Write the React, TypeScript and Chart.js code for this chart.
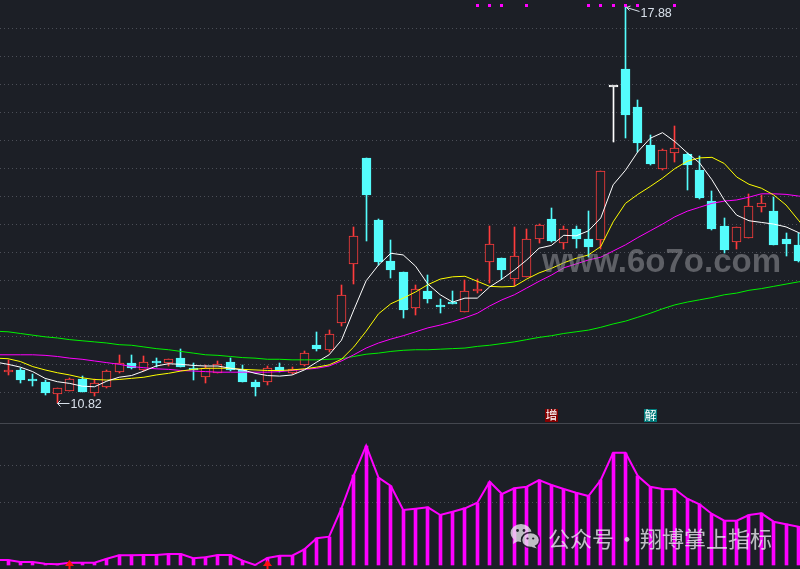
import React, { useEffect, useRef } from 'react';
import { Chart, registerables } from 'chart.js';

Chart.register(...registerables);

// daily candles, index 0..64
const candleOpen = [
  11.37, 11.40, 11.24, 11.20, 10.98, 11.04, 11.25, 11.00, 11.11, 11.38,
  11.54, 11.41, 11.55, 11.53, 11.63, 11.44, 11.29, 11.36, 11.55, 11.40,
  11.20, 11.20, 11.46, 11.35, 11.49, 11.85, 11.77, 12.25, 13.29, 15.19,
  14.08, 13.35, 13.16, 12.52, 12.82, 12.56, 12.61, 12.44, 12.82, 13.33,
  13.40, 13.04, 13.07, 13.74, 14.10, 13.67, 13.92, 13.74, 13.73, 16.45,
  16.77, 16.10, 15.42, 14.99, 15.27, 15.26, 14.97, 14.43, 13.98, 13.69,
  13.77, 14.31, 14.25, 13.74, 13.64,
];
const candleClose = [
  11.39, 11.23, 11.22, 11.00, 11.09, 11.25, 11.02, 11.18, 11.39, 11.53,
  11.45, 11.56, 11.53, 11.60, 11.47, 11.40, 11.44, 11.51, 11.40, 11.20,
  11.11, 11.45, 11.39, 11.42, 11.72, 11.78, 12.05, 12.75, 13.79, 14.52,
  13.34, 13.19, 12.47, 12.85, 12.67, 12.54, 12.59, 12.81, 12.86, 13.65,
  13.20, 13.45, 13.74, 13.99, 13.70, 13.92, 13.74, 13.60, 14.95, 16.45,
  15.96, 15.46, 15.08, 15.33, 15.37, 15.06, 14.48, 13.92, 13.55, 13.95,
  14.33, 14.39, 13.64, 13.65, 13.36,
];
const candleHigh = [
  11.59, 11.44, 11.34, 11.23, 11.09, 11.27, 11.30, 11.25, 11.41, 11.68,
  11.68, 11.66, 11.62, 11.60, 11.79, 11.53, 11.50, 11.57, 11.63, 11.49,
  11.23, 11.48, 11.54, 11.46, 11.75, 12.09, 12.12, 12.92, 13.95, 15.19,
  14.10, 13.73, 13.16, 12.92, 13.10, 12.67, 12.82, 13.01, 13.03, 13.98,
  13.40, 13.95, 13.93, 14.01, 14.29, 13.98, 13.98, 14.24, 14.95, 16.45,
  17.88, 16.22, 15.60, 15.35, 15.75, 15.28, 15.22, 14.60, 14.11, 13.96,
  14.55, 14.53, 14.50, 13.85, 13.85,
];
const candleLow = [
  11.32, 11.18, 11.13, 10.96, 10.82, 11.03, 11.01, 10.94, 11.09, 11.36,
  11.43, 11.39, 11.47, 11.48, 11.46, 11.23, 11.18, 11.36, 11.39, 11.20,
  10.95, 11.15, 11.37, 11.34, 11.48, 11.75, 11.73, 12.20, 12.94, 13.70,
  13.28, 13.05, 12.33, 12.39, 12.60, 12.43, 12.58, 12.44, 12.79, 12.96,
  13.03, 12.91, 13.07, 13.67, 13.69, 13.56, 13.58, 13.42, 13.56, 15.48,
  15.55, 15.30, 15.06, 14.97, 15.12, 14.61, 14.46, 13.90, 13.49, 13.56,
  13.76, 14.23, 13.63, 13.44, 13.33,
];

// moving averages and the lower indicator run from index -1 to 65 (off both edges)
const LINE_START = -1;
const ma5 = [
  11.55, 11.51, 11.46, 11.38, 11.26, 11.20, 11.17, 11.12, 11.11, 11.21,
  11.28, 11.31, 11.39, 11.48, 11.52, 11.51, 11.49, 11.48, 11.48, 11.44,
  11.41, 11.35, 11.31, 11.30, 11.32, 11.41, 11.55, 11.68, 11.94, 12.48,
  13.00, 13.28, 13.49, 13.46, 13.26, 12.94, 12.75, 12.62, 12.69, 12.69,
  12.89, 13.03, 13.19, 13.37, 13.58, 13.63, 13.81, 13.80, 13.89, 14.12,
  14.71, 14.97, 15.30, 15.54, 15.64, 15.48, 15.28, 15.10, 14.80, 14.44,
  14.17, 14.07, 14.04, 14.01, 13.96, 13.86, 13.76,
];
const ma10 = [
  11.62, 11.61, 11.56, 11.47, 11.41, 11.36, 11.32, 11.27, 11.24, 11.23,
  11.24, 11.26, 11.28, 11.32, 11.35, 11.39, 11.42, 11.44, 11.44, 11.44,
  11.42, 11.41, 11.40, 11.40, 11.41, 11.43, 11.46, 11.50, 11.60, 11.82,
  12.10, 12.41, 12.59, 12.69, 12.80, 12.93, 13.03, 13.07, 13.08, 12.99,
  12.90, 12.89, 12.90, 13.03, 13.14, 13.22, 13.32, 13.40, 13.46, 13.61,
  14.05, 14.38, 14.54, 14.68, 14.83, 15.00, 15.13, 15.19, 15.20, 15.09,
  14.85, 14.72, 14.65, 14.53, 14.35, 14.08, 13.81,
];
const ma20 = [
  11.68, 11.68, 11.68, 11.68, 11.67, 11.65, 11.62, 11.60, 11.57, 11.54,
  11.51, 11.47, 11.45, 11.43, 11.42, 11.40, 11.39, 11.38, 11.37, 11.37,
  11.37, 11.37, 11.37, 11.38, 11.40, 11.42, 11.44, 11.48, 11.57, 11.68,
  11.80, 11.89, 11.96, 12.02, 12.09, 12.16, 12.21, 12.27, 12.34, 12.42,
  12.55, 12.66, 12.75, 12.87, 12.99, 13.10, 13.23, 13.30, 13.37, 13.42,
  13.53, 13.64, 13.77, 13.89, 14.01, 14.14, 14.24, 14.31, 14.38, 14.42,
  14.44, 14.49, 14.55, 14.55, 14.54, 14.51, 14.49,
];
const ma60 = [
  12.10, 12.09, 12.06, 12.03, 12.00, 11.98, 11.95, 11.93, 11.91, 11.89,
  11.86, 11.85, 11.82, 11.79, 11.77, 11.74, 11.71, 11.68, 11.67, 11.65,
  11.63, 11.62, 11.60, 11.60, 11.59, 11.59, 11.59, 11.60, 11.61, 11.65,
  11.69, 11.71, 11.74, 11.76, 11.77, 11.77, 11.78, 11.79, 11.80, 11.83,
  11.85, 11.88, 11.91, 11.95, 11.99, 12.02, 12.06, 12.09, 12.12, 12.17,
  12.23, 12.28, 12.35, 12.42, 12.50, 12.57, 12.62, 12.66, 12.70, 12.75,
  12.78, 12.83, 12.86, 12.90, 12.94, 12.98, 13.01,
];
const energy = [
  5, 5, 3, 3, 1.3, 0.7, 2.3, 2.3, 2.3, 6.3,
  9.7, 9.7, 10, 10, 11, 11, 6.7, 7.7, 10, 10,
  4.3, 0, 7, 9.3, 9.3, 15.7, 26.7, 28.3, 56.7, 90,
  119.3, 87.3, 79, 55, 56.3, 57.7, 50, 53.3, 56.7, 62.3,
  83.3, 71, 76.7, 78.3, 85, 80, 76, 72.3, 69, 85,
  112.3, 112.3, 89, 78.3, 76, 75.7, 66.3, 60.7, 51, 44.3,
  44.3, 50, 51.7, 43.3, 40.7, 38.3, 36,
];

const priceGrid = [11, 11.5, 12, 12.5, 13, 13.5, 14, 14.5, 15, 15.5, 16, 16.5, 17, 17.5];
const energyGrid = [63, 100];
const signalDots = [38, 39, 40, 42, 47, 48, 49, 50, 51, 54];
const tagIndex = [44, 52];
const tagText = ['增', '解'];
const buyArrows = [5, 21];

const BG = '#1c1f26';
const UP = '#ff3c3c';
const DOWN = '#54fcfc';
const FLAT = '#ffffff';
const GRID = '#4b4e57';
const MAGENTA = '#ff00ff';
const TAG_BG = ['#840000', '#007a7a'];

const X_MIN = -0.648;
const X_MAX = 64.13;

const idx = candleOpen.map((_, i) => i);
const candleColor = (i: number) =>
  candleClose[i] > candleOpen[i] ? UP : candleClose[i] < candleOpen[i] ? DOWN : FLAT;
const asLine = (arr: number[]) => arr.map((v, k) => ({ x: k + LINE_START, y: v }));

// snap bar elements onto whole pixels so the 1px borders and wicks stay crisp
const snapPlugin = {
  id: 'snap',
  afterDatasetsUpdate(chart: any) {
    chart.getSortedVisibleDatasetMetas().forEach((meta: any) => {
      if (meta.type !== 'bar') return;
      meta.data.forEach((el: any) => {
        el.x = Math.floor(el.x) + 0.5;
        el.y = Math.round(el.y);
        el.base = Math.round(el.base);
      });
    });
  },
};

const marksPlugin = {
  id: 'marks',
  afterDatasetsDraw(chart: any) {
    const { ctx, chartArea } = chart;
    const x = chart.scales.x;
    const y = chart.scales.y;
    ctx.save();

    ctx.fillStyle = MAGENTA;
    signalDots.forEach((i) => {
      const px = Math.floor(x.getPixelForValue(i));
      ctx.fillRect(px - 1, chartArea.top + 4, 3, 3);
    });

    const hiVal = Math.max(...candleHigh);
    const hiIdx = candleHigh.indexOf(hiVal);
    const loVal = Math.min(...candleLow);
    const loIdx = candleLow.indexOf(loVal);

    ctx.strokeStyle = '#d8e0ea';
    ctx.fillStyle = '#d8e0ea';
    ctx.lineWidth = 1;
    ctx.font = '12.5px "Liberation Sans", Arial, sans-serif';
    ctx.textBaseline = 'middle';

    // high marker
    const hx = Math.floor(x.getPixelForValue(hiIdx)) + 1.5;
    const hy = Math.round(y.getPixelForValue(hiVal)) + 0.5;
    ctx.beginPath();
    ctx.moveTo(hx + 13, hy + 4);
    ctx.lineTo(hx, hy);
    ctx.moveTo(hx + 4, hy - 1.5);
    ctx.lineTo(hx, hy);
    ctx.lineTo(hx + 3, hy + 3);
    ctx.stroke();
    ctx.fillText(hiVal.toFixed(2), hx + 14, hy + 6);

    // low marker
    const lx = Math.floor(x.getPixelForValue(loIdx)) + 0.5;
    const ly = Math.round(y.getPixelForValue(loVal)) + 0.5;
    ctx.beginPath();
    ctx.moveTo(lx + 12, ly);
    ctx.lineTo(lx, ly);
    ctx.moveTo(lx + 3, ly - 3);
    ctx.lineTo(lx, ly);
    ctx.lineTo(lx + 3, ly + 3);
    ctx.stroke();
    ctx.fillText(loVal.toFixed(2), lx + 13, ly + 1);

    // signal tags
    ctx.font = '12px "Noto Sans CJK SC", sans-serif';
    ctx.textAlign = 'center';
    tagIndex.forEach((i, k) => {
      const px = Math.floor(x.getPixelForValue(i));
      ctx.fillStyle = TAG_BG[k];
      ctx.fillRect(px - 6, chartArea.bottom - 14, 13, 13);
      ctx.fillStyle = '#ffffff';
      ctx.fillText(tagText[k], px + 0.5, chartArea.bottom - 7.5);
    });
    ctx.restore();
  },
};

const arrowPlugin = {
  id: 'arrows',
  afterDatasetsDraw(chart: any) {
    const { ctx, chartArea } = chart;
    const x = chart.scales.x;
    ctx.save();
    ctx.fillStyle = '#ff1010';
    buyArrows.forEach((i) => {
      const px = Math.floor(x.getPixelForValue(i)) + 0.5;
      const b = chartArea.bottom;
      ctx.beginPath();
      ctx.moveTo(px, b - 9);
      ctx.lineTo(px + 4.5, b - 3);
      ctx.lineTo(px - 4.5, b - 3);
      ctx.closePath();
      ctx.fill();
      ctx.fillRect(px - 1, b - 4, 2, 4);
    });
    ctx.restore();
  },
};

const baseX = { type: 'linear', min: X_MIN, max: X_MAX, display: false, offset: false };

const gridY = (min: number, max: number, grid: number[]) => ({
  min,
  max,
  position: 'right',
  ticks: { display: false },
  grid: { color: GRID, drawTicks: false, lineWidth: 1 },
  border: { display: false, dash: [1, 3] },
  afterFit: (s: any) => {
    s.width = 0;
  },
  afterBuildTicks: (s: any) => {
    s.ticks = grid.map((value) => ({ value }));
  },
});

const MainChart: React.FC = () => {
  const ref = useRef<HTMLCanvasElement>(null);
  useEffect(() => {
    if (!ref.current) return;
    const colors = idx.map(candleColor);
    const chart = new Chart(ref.current, {
      type: 'bar',
      data: {
        datasets: [
          { type: 'line', data: asLine(ma5), borderColor: '#ffffff', borderWidth: 1, pointRadius: 0, order: 0 },
          { type: 'line', data: asLine(ma10), borderColor: '#ffff00', borderWidth: 1, pointRadius: 0, order: 0 },
          { type: 'line', data: asLine(ma20), borderColor: MAGENTA, borderWidth: 1, pointRadius: 0, order: 0 },
          { type: 'line', data: asLine(ma60), borderColor: '#00f000', borderWidth: 1, pointRadius: 0, order: 0 },
          {
            type: 'bar',
            data: idx.map((i) => ({ x: i, y: [candleOpen[i], candleClose[i]] })),
            backgroundColor: idx.map((i) => (candleClose[i] > candleOpen[i] ? BG : colors[i])),
            borderColor: colors,
            borderWidth: 1,
            borderSkipped: false,
            barThickness: 9,
            minBarLength: 2,
            grouped: false,
            order: 1,
          },
          {
            type: 'bar',
            data: idx.map((i) => ({ x: i, y: [candleLow[i], candleHigh[i]] })),
            backgroundColor: colors,
            barThickness: 1,
            grouped: false,
            order: 2,
          },
        ] as any,
      },
      options: {
        animation: false,
        responsive: false,
        events: [],
        layout: { padding: 0 },
        plugins: { legend: { display: false }, tooltip: { enabled: false } },
        scales: { x: baseX as any, y: gridY(10.464, 18.005, priceGrid) as any },
      },
      plugins: [snapPlugin, marksPlugin],
    });
    return () => chart.destroy();
  }, []);
  return <canvas ref={ref} width={800} height={423} style={{ display: 'block' }} />;
};

const LowerChart: React.FC = () => {
  const ref = useRef<HTMLCanvasElement>(null);
  useEffect(() => {
    if (!ref.current) return;
    const chart = new Chart(ref.current, {
      type: 'bar',
      data: {
        datasets: [
          { type: 'line', data: asLine(energy), borderColor: MAGENTA, borderWidth: 2, pointRadius: 0, order: 0 },
          { type: 'bar', data: asLine(energy), backgroundColor: MAGENTA, barThickness: 3, grouped: false, order: 1 },
        ] as any,
      },
      options: {
        animation: false,
        responsive: false,
        events: [],
        layout: { padding: 0 },
        plugins: { legend: { display: false }, tooltip: { enabled: false } },
        scales: { x: baseX as any, y: gridY(-4, 141, energyGrid) as any },
      },
      plugins: [snapPlugin, arrowPlugin],
    });
    return () => chart.destroy();
  }, []);
  return <canvas ref={ref} width={800} height={145} style={{ display: 'block' }} />;
};

const WeChatIcon: React.FC = () => (
  <svg width={30} height={26} viewBox="0 0 30 26" style={{ position: 'absolute', left: 510, top: 523 }}>
    <g opacity={0.78}>
      <ellipse cx={11} cy={10} rx={10.5} ry={9} fill="#ebebf0" />
      <polygon points="4,15 3,21 9,17.5" fill="#ebebf0" />
      <ellipse cx={20.5} cy={17} rx={9} ry={7.5} fill="#ebebf0" stroke={BG} strokeWidth={1.5} />
      <polygon points="24,22 27,25.5 21,23.8" fill="#ebebf0" />
      <circle cx={7.5} cy={7.5} r={1.4} fill={BG} />
      <circle cx={14} cy={7.5} r={1.4} fill={BG} />
      <circle cx={17.5} cy={15.5} r={1.1} fill={BG} />
      <circle cx={23.2} cy={15.5} r={1.1} fill={BG} />
    </g>
  </svg>
);

export default function App() {
  return (
    <div
      style={{
        position: 'fixed',
        left: 0,
        top: 0,
        width: 800,
        height: 569,
        background: BG,
        overflow: 'hidden',
      }}
    >
      <div style={{ position: 'absolute', left: 0, top: 0, width: 800, height: 423 }}>
        <MainChart />
      </div>
      <div style={{ position: 'absolute', left: 0, top: 423, width: 800, height: 1, background: '#44474f' }} />
      <div style={{ position: 'absolute', left: 0, top: 424, width: 800, height: 145 }}>
        <LowerChart />
      </div>
      <div
        style={{
          position: 'absolute',
          left: 542,
          top: 244,
          fontFamily: '"Liberation Sans", Arial, sans-serif',
          fontWeight: 'bold',
          fontSize: 33,
          lineHeight: '33px',
          color: 'rgba(150,150,155,0.55)',
          whiteSpace: 'nowrap',
          pointerEvents: 'none',
        }}
      >
        www.6o7o.com
      </div>
      <WeChatIcon />
      <div
        style={{
          position: 'absolute',
          left: 548,
          top: 526,
          fontFamily: '"Noto Sans CJK SC", sans-serif',
          fontSize: 22,
          lineHeight: '22px',
          color: 'rgba(235,235,240,0.78)',
          whiteSpace: 'nowrap',
          pointerEvents: 'none',
        }}
      >
        <span>公众号</span>
        <span style={{ margin: '0 2px' }}>·</span>
        <span>翔博掌上指标</span>
      </div>
    </div>
  );
}
